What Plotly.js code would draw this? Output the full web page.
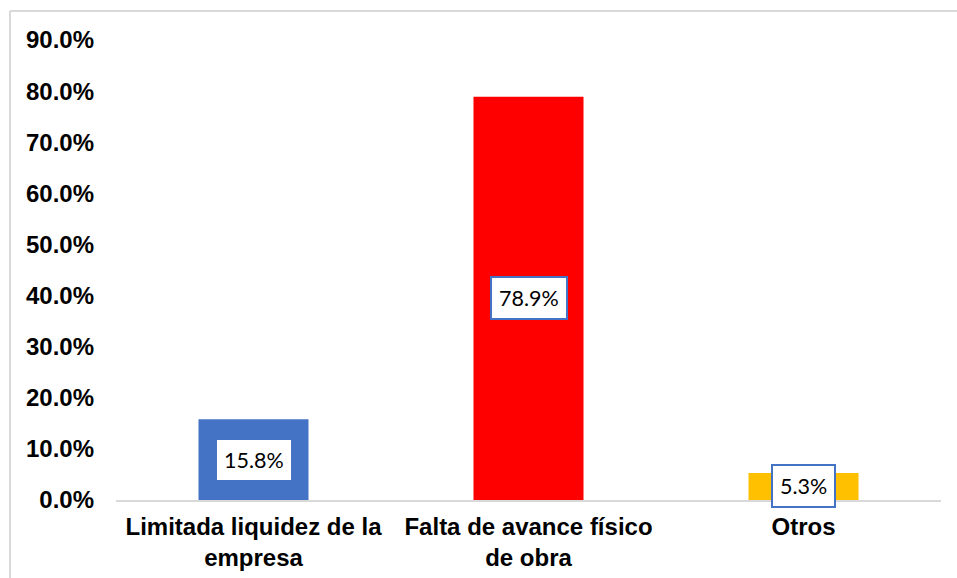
<!DOCTYPE html>
<html>
<head>
<meta charset="utf-8">
<script src="https://cdn.plot.ly/plotly-3.0.1.min.js"></script>
<style>
  html, body { margin: 0; padding: 0; background: #ffffff; }
  #chart { width: 957px; height: 578px; }
</style>
</head>
<body>
<div id="chart"></div>
<script>
const categories = ["Limitada liquidez de la<br>empresa", "Falta de avance físico<br>de obra", "Otros"];
const values = [15.8, 78.9, 5.3];
const labels = ["15.8%", "78.9%", "5.3%"];
const colors = ["#4472C4", "#FF0000", "#FFC000"];
const yTicks = [0, 10, 20, 30, 40, 50, 60, 70, 80, 90];
const yTickLabels = ["0.0%", "10.0%", "20.0%", "30.0%", "40.0%", "50.0%", "60.0%", "70.0%", "80.0%", "90.0%"];

const W = 957, H = 578;
const mL = 116, mR = 16, mT = 40, mB = 78;
const pw = W - mL - mR, ph = H - mT - mB;
const px = v => (v - mL) / pw;
const py = v => (H - mB - v) / ph;

const trace = {
  type: "bar",
  x: categories,
  y: values,
  marker: { color: colors, line: { width: 0 } },
  width: 0.4,
  hoverinfo: "skip"
};

const annotations = values.map((v, i) => ({
  x: categories[i],
  y: v / 2,
  xref: "x",
  yref: "y",
  text: labels[i],
  showarrow: false,
  xanchor: "center",
  yanchor: "middle",
  bgcolor: "#ffffff",
  bordercolor: "#4472C4",
  borderwidth: 2,
  borderpad: 7,
  font: { family: "Lato, 'Open Sans', sans-serif", size: 21.5, color: "#000000" }
}));

const borderColor = "#d9d9d9";
const shapes = [
  { type: "line", xref: "paper", yref: "paper", x0: px(10), x1: px(10), y0: py(11), y1: py(H + 5),
    line: { color: borderColor, width: 2 } },
  { type: "line", xref: "paper", yref: "paper", x0: px(10), x1: px(W + 5), y0: py(11), y1: py(11),
    line: { color: borderColor, width: 2 } }
];

const tickFont = { family: "'Liberation Sans', Arial, sans-serif", size: 24, color: "#000000", weight: "bold" };

const layout = {
  width: W,
  height: H,
  margin: { l: mL, r: mR, t: mT, b: mB, pad: 0 },
  paper_bgcolor: "#ffffff",
  plot_bgcolor: "#ffffff",
  showlegend: false,
  font: { family: "'Liberation Sans', Arial, sans-serif", color: "#000000" },
  xaxis: {
    showgrid: false,
    zeroline: false,
    showline: true,
    linecolor: borderColor,
    linewidth: 2,
    ticks: "",
    ticklabelstandoff: 4,
    tickfont: tickFont,
    fixedrange: true
  },
  yaxis: {
    range: [0, 90],
    tickmode: "array",
    tickvals: yTicks,
    ticktext: yTickLabels,
    showgrid: false,
    zeroline: false,
    showline: false,
    ticks: "",
    ticklabelstandoff: 21,
    tickfont: tickFont,
    fixedrange: true
  },
  annotations: annotations,
  shapes: shapes
};

Plotly.newPlot("chart", [trace], layout, { staticPlot: true, displayModeBar: false });
</script>
</body>
</html>
